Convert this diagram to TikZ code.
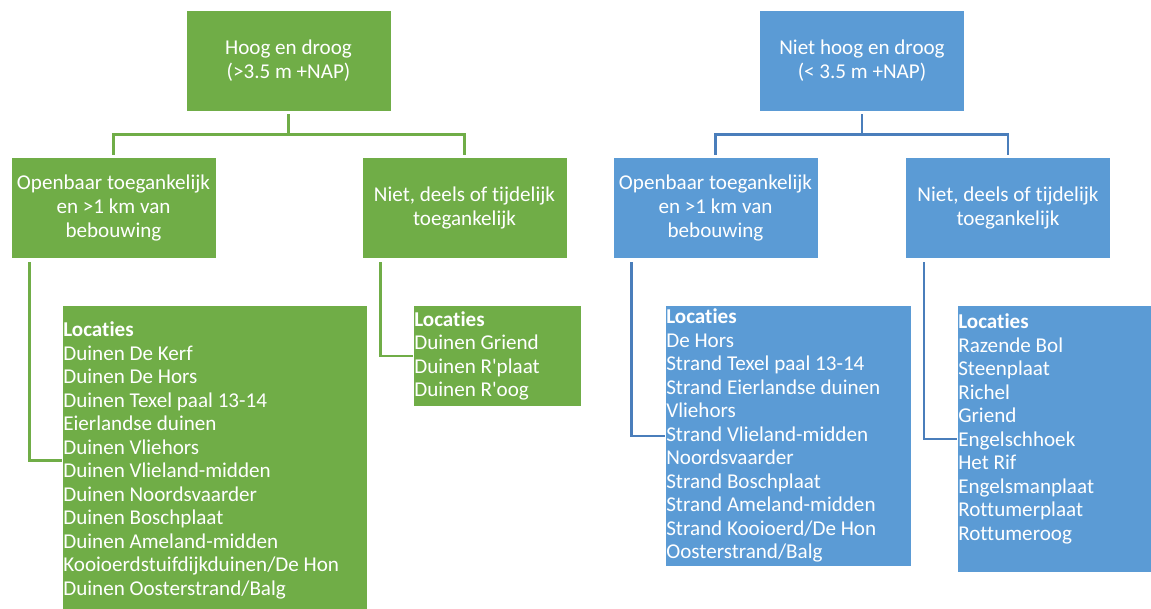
\documentclass[tikz,border=0pt]{standalone}
\usepackage{fontspec}
\setmainfont{Carlito}[Ligatures={NoCommon}]
\usepackage{xcolor}
\usepackage{tikz}
\definecolor{groen}{HTML}{70AD47}
\definecolor{blauw}{HTML}{5B9BD5}
\definecolor{blauwlijn}{HTML}{4A7EBB}
\tikzset{
  kop/.style={draw=white, line width=0.6pt, minimum width=205pt, minimum height=101pt, inner sep=0pt, align=center, text=white, font=\fontsize{21.1}{24}\selectfont},
  lijst/.style={draw=white, line width=0.6pt, anchor=north west, inner xsep=1pt, inner ysep=0pt, align=flush left, text=white, font=\fontsize{21.1}{23.5}\selectfont},
  glijn/.style={draw=groen, line width=2.5pt},
  blijn/.style={draw=blauwlijn, line width=2.5pt},
}

\begin{document}
\begin{tikzpicture}[x=1pt, y=-1pt]
  \useasboundingbox (0,0) rectangle (1151,609);

  % hoog en droog
  \node[kop, fill=groen] (hoog) at (288.5,60.5) {Hoog en droog\\(>3.5 m +NAP)};
  \node[kop, fill=groen] (openA) at (113.5,207.5) {Openbaar toegankelijk\\en >1 km van\\bebouwing};
  \node[kop, fill=groen] (nietA) at (464.5,207.5) {Niet, deels of tijdelijk\\toegankelijk};
  \node[lijst, fill=groen, text width=303pt, minimum height=310pt] (locA) at (62,305)
    {\textbf{Locaties}\\Duinen De Kerf\\Duinen De Hors\\Duinen Texel paal 13-14\\Eierlandse duinen\\Duinen Vliehors\\Duinen Vlieland-midden\\Duinen Noordsvaarder\\Duinen Boschplaat\\Duinen Ameland-midden\\Kooioerdstuifdijkduinen/De Hon\\Duinen Oosterstrand/Balg};
  \node[lijst, fill=groen, text width=166pt, minimum height=101pt] (locB) at (413,305)
    {\textbf{Locaties}\\Duinen Griend\\Duinen R\textquotesingle plaat\\Duinen R\textquotesingle oog};

  % niet hoog en droog
  \node[kop, fill=blauw] (laag) at (862,60.5) {Niet hoog en droog\\(< 3.5 m +NAP)};
  \node[kop, fill=blauw] (openB) at (715.5,207.5) {Openbaar toegankelijk\\en >1 km van\\bebouwing};
  \node[kop, fill=blauw] (nietB) at (1008,207.5) {Niet, deels of tijdelijk\\toegankelijk};
  \node[lijst, fill=blauw, text width=244pt, minimum height=261pt] (locC) at (665,305)
    {\textbf{Locaties}\\De Hors\\Strand Texel paal 13-14\\Strand Eierlandse duinen\\Vliehors\\Strand Vlieland-midden\\Noordsvaarder\\Strand Boschplaat\\Strand Ameland-midden\\Strand Kooioerd/De Hon\\Oosterstrand/Balg};
  \node[lijst, fill=blauw, text width=193pt, minimum height=267pt] (locD) at (957,305)
    {\textbf{Locaties}\\Razende Bol\\Steenplaat\\Richel\\Griend\\Engelschhoek\\Het Rif\\Engelsmanplaat\\Rottumerplaat\\Rottumeroog\\\mbox{}};

  \draw[glijn, shorten <=3pt, shorten >=2pt] (hoog.south) -- ++(0,23) -| (openA.north);
  \draw[glijn, shorten <=3pt, shorten >=2pt] (hoog.south) -- ++(0,23) -| (nietA.north);
  \draw[glijn, shorten <=4pt] ([xshift=19pt]openA.south west) |- (locA.west);
  \draw[glijn, shorten <=4pt] ([xshift=19pt]nietA.south west) |- (locB.west);

  \draw[blijn, shorten <=3pt, shorten >=2pt] (laag.south) -- ++(0,23) -| (openB.north);
  \draw[blijn, shorten <=3pt, shorten >=2pt] (laag.south) -- ++(0,23) -| (nietB.north);
  \draw[blijn, shorten <=4pt] ([xshift=19pt]openB.south west) |- (locC.west);
  \draw[blijn, shorten <=4pt] ([xshift=19pt]nietB.south west) |- (locD.west);
\end{tikzpicture}
\end{document}
